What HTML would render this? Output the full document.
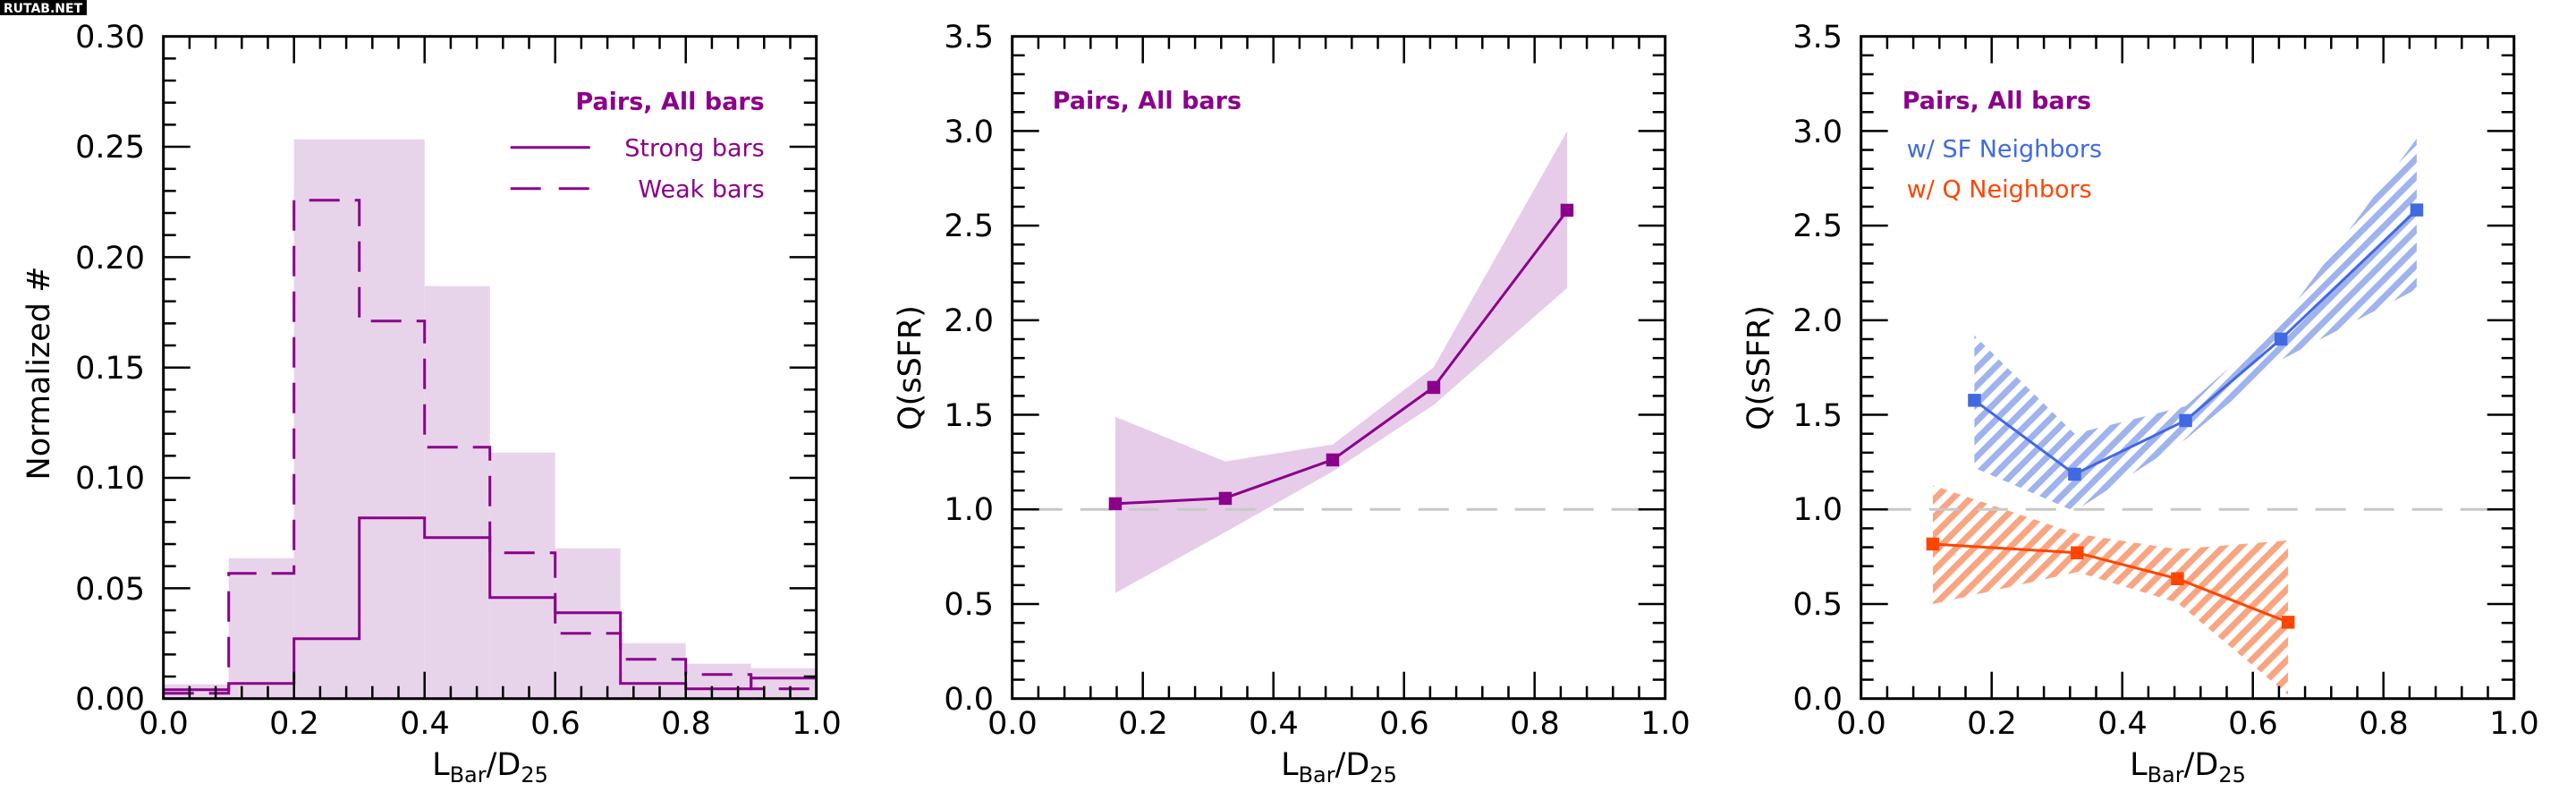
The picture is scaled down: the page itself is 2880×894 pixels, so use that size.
<!DOCTYPE html>
<html><head><meta charset="utf-8"><style>
html,body{margin:0;padding:0;background:#fff;}
svg{display:block;font-family:"DejaVu Sans","Liberation Sans",sans-serif;}
</style></head><body>
<svg id="s" width="2880" height="894" viewBox="0 0 2880 894" xmlns="http://www.w3.org/2000/svg">
<defs>
<pattern id="hb" width="14" height="14" patternUnits="userSpaceOnUse" patternTransform="rotate(45)">
<rect x="0" y="0" width="7" height="14" fill="#9fb3ee"/></pattern>
<pattern id="ho" width="14" height="14" patternUnits="userSpaceOnUse" patternTransform="rotate(45)">
<rect x="0" y="0" width="7" height="14" fill="#f9a582"/></pattern>
</defs>
<rect x="0" y="0" width="2880" height="894" fill="#fff"/>
<rect x="0" y="0" width="97" height="17" fill="#000"/>
<text x="48" y="14" font-size="14" font-weight="bold" fill="#fff" text-anchor="middle">RUTAB.NET</text>

<!-- Panel 1 -->
<g transform="translate(182.7,40.7)">
<g fill="#e8d4ea">
<rect x="0" y="724" width="73" height="16"/>
<rect x="73" y="583" width="73" height="157"/>
<rect x="146" y="115" width="146" height="625"/>
<rect x="292" y="279" width="73" height="461"/>
<rect x="365" y="465" width="73" height="275"/>
<rect x="438" y="572" width="73" height="168"/>
<rect x="511" y="678" width="73" height="62"/>
<rect x="584" y="701" width="73" height="39"/>
<rect x="657" y="706" width="73" height="34"/>
</g>
<path d="M0,734 H73 V600 H146 V183 H219 V318 H292 V459 H365 V577 H438 V667 H511 V696 H584 V713 H657 V729 H730" fill="none" stroke="#8b008b" stroke-width="3" stroke-dasharray="34,17"/>
<path d="M0,730 H73 V723 H146 V673 H219 V538 H292 V560 H365 V627 H438 V644 H511 V723 H584 V729 H657 V717 H730" fill="none" stroke="#8b008b" stroke-width="3"/>
<text x="672" y="82" font-size="27" font-weight="bold" fill="#8b008b" text-anchor="end">Pairs, All bars</text>
<line x1="388" y1="124" x2="477" y2="124" stroke="#8b008b" stroke-width="3"/>
<text x="672" y="134" font-size="27" fill="#8b008b" text-anchor="end">Strong bars</text>
<line x1="388" y1="170" x2="477" y2="170" stroke="#8b008b" stroke-width="3" stroke-dasharray="34,20"/>
<text x="672" y="180" font-size="27" fill="#8b008b" text-anchor="end">Weak bars</text>
</g>
<g font-size="35" fill="#000" text-anchor="end">
<text x="162" y="793">0.00</text><text x="162" y="670">0.05</text><text x="162" y="546">0.10</text>
<text x="162" y="423">0.15</text><text x="162" y="300">0.20</text><text x="162" y="176">0.25</text><text x="162" y="53">0.30</text>
</g>
<g font-size="35" fill="#000" text-anchor="middle">
<text x="183" y="820">0.0</text><text x="329" y="820">0.2</text><text x="475" y="820">0.4</text>
<text x="621" y="820">0.6</text><text x="767" y="820">0.8</text><text x="913" y="820">1.0</text>
</g>
<text transform="translate(55,417) rotate(-90)" font-size="35" text-anchor="middle">Normalized #</text>
<text x="548" y="866" font-size="35" text-anchor="middle">L<tspan font-size="24" dy="8">Bar</tspan><tspan dy="-8">/D</tspan><tspan font-size="24" dy="8">25</tspan></text>

<!-- Panel 2 -->
<g transform="translate(1131.7,40.7)">
<polygon points="115.3,425 238,475 358.4,456 470.9,370 620.5,105.7 620.5,281 470.9,412 358.4,486 238,554 115.3,622" fill="#e6cce8"/>
<line x1="22" y1="528.6" x2="708" y2="528.6" stroke="#c8c8c8" stroke-width="3" stroke-dasharray="34,20"/>
<polyline points="115.3,522.2 238,515.9 358.4,473 470.9,392.2 620.5,194.5" fill="none" stroke="#8b008b" stroke-width="3"/>
<g fill="#8b008b">
<rect x="108" y="515" width="14.5" height="14.5"/><rect x="231" y="509" width="14.5" height="14.5"/>
<rect x="351" y="466" width="14.5" height="14.5"/><rect x="464" y="385" width="14.5" height="14.5"/>
<rect x="613" y="187" width="14.5" height="14.5"/>
</g>
<text x="45" y="81" font-size="27" font-weight="bold" fill="#8b008b">Pairs, All bars</text>
</g>

<!-- Panel 3 -->
<g transform="translate(2080.7,40.7)">
<polygon points="126.7,334.1 238.7,444 362.8,413.3 469.4,319.3 621.2,114.2 621.2,282.3 469.4,361.5 362.8,450.3 238.7,530.7 126.7,482" fill="url(#hb)"/>
<polygon points="80.3,501.7 241.6,555.8 353.7,573 477.4,563.2 477.4,735.8 353.7,632.8 241.6,598.6 80.3,634.3" fill="url(#ho)"/>
<line x1="22" y1="528.6" x2="708" y2="528.6" stroke="#c8c8c8" stroke-width="3" stroke-dasharray="34,20"/>
<polyline points="126.7,406.6 238.7,489.2 362.8,429.2 469.4,338.3 621.2,193.9" fill="none" stroke="#4169e1" stroke-width="3"/>
<g fill="#4169e1">
<rect x="119.5" y="399.4" width="14.5" height="14.5"/><rect x="231.5" y="482" width="14.5" height="14.5"/>
<rect x="355.6" y="422" width="14.5" height="14.5"/><rect x="462.2" y="331" width="14.5" height="14.5"/>
<rect x="614" y="186.7" width="14.5" height="14.5"/>
</g>
<polyline points="80.3,567.3 241.6,577 353.7,606 477.4,654.6" fill="none" stroke="#ff4500" stroke-width="3"/>
<g fill="#ff4500">
<rect x="73" y="560" width="14.5" height="14.5"/><rect x="234.4" y="569.8" width="14.5" height="14.5"/>
<rect x="346.5" y="598.8" width="14.5" height="14.5"/><rect x="470.2" y="647.4" width="14.5" height="14.5"/>
</g>
<text x="46" y="81" font-size="27" font-weight="bold" fill="#8b008b">Pairs, All bars</text>
<text x="51" y="135" font-size="27" fill="#4169e1">w/ SF Neighbors</text>
<text x="51" y="180" font-size="27" fill="#ff4500">w/ Q Neighbors</text>
</g>

<!-- axis labels panels 2,3 -->
<g font-size="35" fill="#000" text-anchor="end">
<text x="1111" y="793">0.0</text><text x="1111" y="687">0.5</text><text x="1111" y="581">1.0</text><text x="1111" y="476">1.5</text>
<text x="1111" y="370">2.0</text><text x="1111" y="264">2.5</text><text x="1111" y="159">3.0</text><text x="1111" y="53">3.5</text>
<text x="2060" y="793">0.0</text><text x="2060" y="687">0.5</text><text x="2060" y="581">1.0</text><text x="2060" y="476">1.5</text>
<text x="2060" y="370">2.0</text><text x="2060" y="264">2.5</text><text x="2060" y="159">3.0</text><text x="2060" y="53">3.5</text>
</g>
<g font-size="35" fill="#000" text-anchor="middle">
<text x="1132" y="820">0.0</text><text x="1278" y="820">0.2</text><text x="1424" y="820">0.4</text>
<text x="1570" y="820">0.6</text><text x="1716" y="820">0.8</text><text x="1862" y="820">1.0</text>
<text x="2081" y="820">0.0</text><text x="2227" y="820">0.2</text><text x="2373" y="820">0.4</text>
<text x="2519" y="820">0.6</text><text x="2665" y="820">0.8</text><text x="2811" y="820">1.0</text>
</g>
<text transform="translate(1029,411) rotate(-90)" font-size="35" text-anchor="middle">Q(sSFR)</text>
<text transform="translate(1978,411) rotate(-90)" font-size="35" text-anchor="middle">Q(sSFR)</text>
<text x="1497" y="866" font-size="35" text-anchor="middle">L<tspan font-size="24" dy="8">Bar</tspan><tspan dy="-8">/D</tspan><tspan font-size="24" dy="8">25</tspan></text>
<text x="2446" y="866" font-size="35" text-anchor="middle">L<tspan font-size="24" dy="8">Bar</tspan><tspan dy="-8">/D</tspan><tspan font-size="24" dy="8">25</tspan></text>

<g id="axes"></g>
</svg>
<script>
(function(){
var g=document.getElementById('axes'),ns='http://www.w3.org/2000/svg',out='';
var L=[182.7,1131.7,2080.7],T=40.7,W=730,H=740;
function ln(a,b,c,d,w){out+='<line x1="'+a+'" y1="'+b+'" x2="'+c+'" y2="'+d+'" stroke="#000" stroke-width="'+w+'"/>';}
for(var p=0;p<3;p++){
 var x0=L[p];
 // x ticks every 0.04 of 730? major every 0.2
 for(var i=0;i<=25;i++){var x=x0+i*W/25;var maj=(i%5==0);var len=maj?30:14;
  ln(x,T,x,T+len,2.5);ln(x,T+H,x,T+H-len,2.5);}
 var ny=(p==0)?30:35, mj=5;
 for(var j=0;j<=ny;j++){var y=T+H-j*H/ny;var maj=(j%mj==0);var len=maj?30:14;
  ln(x0,y,x0+len,y,2.5);ln(x0+W,y,x0+W-len,y,2.5);}
 out+='<rect x="'+x0+'" y="'+T+'" width="'+W+'" height="'+H+'" fill="none" stroke="#000" stroke-width="3"/>';
}
g.innerHTML=out;
})();
</script>
</body></html>
